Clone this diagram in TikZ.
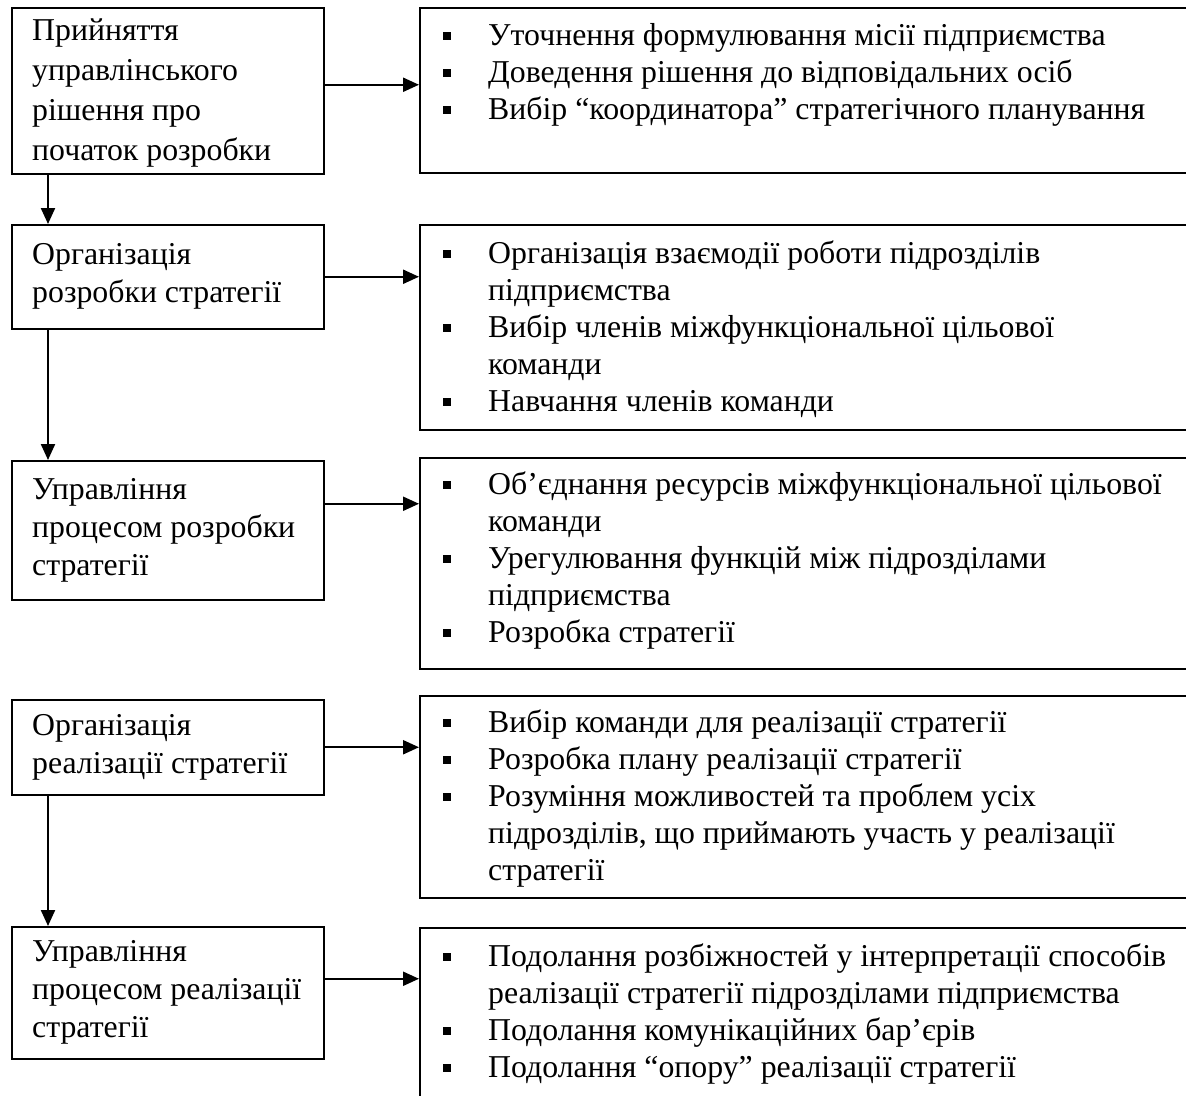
\documentclass[tikz,border=0pt]{standalone}
\usepackage{fontspec}
\setmainfont{Liberation Serif}
\usetikzlibrary{arrows.meta}
\newcommand\bul{\makebox[45pt][l]{\rule[5pt]{7.5pt}{8pt}}}
\newcommand\cont{\hspace*{45pt}}
\begin{document}
\begin{tikzpicture}[x=1pt,y=1pt,
  lbox/.style={draw, line width=1.5pt, anchor=north west, minimum width=312pt, inner sep=0pt},
  rbox/.style={draw, line width=1.5pt, anchor=north west, minimum width=800pt, inner sep=0pt},
  ltext/.style={anchor=west, inner sep=0pt, align=left, font=\fontsize{31.8}{38}\selectfont},
  rlist/.style={anchor=north west, inner sep=0pt, align=left, font=\fontsize{31.8}{37}\selectfont},
  arr/.style={line width=2.2pt, -{Triangle[length=16pt,width=14pt]}}]
\useasboundingbox (0,0) rectangle (1186,-1095);
\clip (0,0) rectangle (1186,-1095);

% left boxes
\node[lbox, minimum height=166pt] (lb1) at (11,-7) {};
\node[lbox, minimum height=104pt] (lb2) at (11,-224) {};
\node[lbox, minimum height=139pt] (lb3) at (11,-460) {};
\node[lbox, minimum height=95pt]  (lb4) at (11,-699) {};
\node[lbox, minimum height=132pt] (lb5) at (11,-926) {};

\node[ltext, font=\fontsize{31.8}{40}\selectfont] (lt1) at ([xshift=21pt,yshift=-2pt]lb1.west) {Прийняття\\управлінського\\рішення про\\початок розробки};
\node[ltext] (lt2) at ([xshift=21pt]lb2.west) {Організація\\розробки стратегії};
\node[ltext] (lt3) at ([xshift=21pt]lb3.west) {Управління\\процесом розробки\\стратегії};
\node[ltext] (lt4) at ([xshift=21pt]lb4.west) {Організація\\реалізації стратегії};
\node[ltext] (lt5) at ([xshift=21pt]lb5.west) {Управління\\процесом реалізації\\стратегії};

% right boxes
\node[rbox, minimum height=165pt] (rb1) at (419,-7) {};
\node[rbox, minimum height=205pt] (rb2) at (419,-224) {};
\node[rbox, minimum height=211pt] (rb3) at (419,-457) {};
\node[rbox, minimum height=202pt] (rb4) at (419,-695) {};
\node[rbox, minimum height=210pt] (rb5) at (419,-927) {};

\node[rlist] (rl1) at (443,-19) {\strut\bul Уточнення формулювання місії підприємства\\
\bul Доведення рішення до відповідальних осіб\\
\bul Вибір “координатора” стратегічного планування};
\node[rlist] (rl2) at (443,-237) {\strut\bul Організація взаємодії роботи підрозділів\\
\cont підприємства\\
\bul Вибір членів міжфункціональної цільової\\
\cont команди\\
\bul Навчання членів команди};
\node[rlist] (rl3) at (443,-468) {\strut\bul Об’єднання ресурсів міжфункціональної цільової\\
\cont команди\\
\bul Урегулювання функцій між підрозділами\\
\cont підприємства\\
\bul Розробка стратегії};
\node[rlist] (rl4) at (443,-706) {\strut\bul Вибір команди для реалізації стратегії\\
\bul Розробка плану реалізації стратегії\\
\bul Розуміння можливостей та проблем усіх\\
\cont підрозділів, що приймають участь у реалізації\\
\cont стратегії};
\node[rlist] (rl5) at (443,-940) {\strut\bul Подолання розбіжностей у інтерпретації способів\\
\cont реалізації стратегії підрозділами підприємства\\
\bul Подолання комунікаційних бар’єрів\\
\bul Подолання “опору” реалізації стратегії};

% horizontal arrows
\draw[arr] ([yshift=6pt]lb1.east) -- ([yshift=6pt]lb1.east -| rb1.west);
\draw[arr] (lb2.east) -- (lb2.east -| rb2.west);
\draw[arr] ([yshift=26.5pt]lb3.east) -- ([yshift=26.5pt]lb3.east -| rb3.west);
\draw[arr] (lb4.east) -- (lb4.east -| rb4.west);
\draw[arr] ([yshift=14pt]lb5.east) -- ([yshift=14pt]lb5.east -| rb5.west);

% vertical arrows
\coordinate (v1) at ([xshift=37pt]lb1.south west);
\coordinate (v2) at ([xshift=37pt]lb2.south west);
\coordinate (v4) at ([xshift=37pt]lb4.south west);
\draw[arr] (v1) -- (v1 |- lb2.north);
\draw[arr] (v2) -- (v2 |- lb3.north);
\draw[arr] (v4) -- (v4 |- lb5.north);
\end{tikzpicture}
\end{document}
